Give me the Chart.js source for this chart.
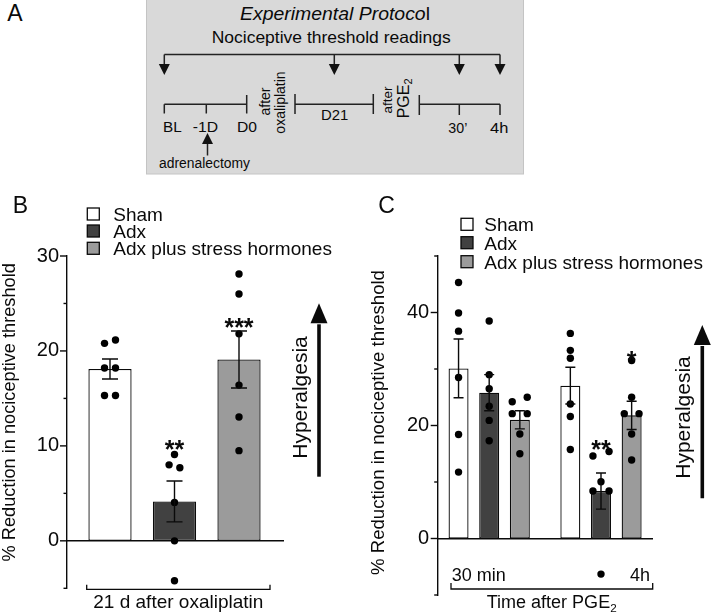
<!DOCTYPE html>
<html>
<head>
<meta charset="utf-8">
<script src="https://cdn.jsdelivr.net/npm/chart.js@4.4.1/dist/chart.umd.min.js"></script>
<style>
  html, body { margin: 0; padding: 0; background: #fff; width: 711px; height: 616px; overflow: hidden; }
  #panelA { position: absolute; left: 0; top: 0; }
  #wrapB { position: absolute; left: 0; top: 195px; width: 355px; height: 421px; }
  #wrapC { position: absolute; left: 355px; top: 195px; width: 356px; height: 421px; }
  canvas { display: block; }
</style>
</head>
<body>
<svg id="panelA" width="711" height="180" viewBox="0 0 711 180" xmlns="http://www.w3.org/2000/svg"
     font-family="Liberation Sans, Arial, Helvetica, sans-serif" fill="#0a0a0a">
  <text x="7.3" y="20.7" font-size="23">A</text>
  <rect x="146.5" y="-1" width="377" height="175" fill="#d9d9d9" stroke="#c4c4c4" stroke-width="1"/>
  <text x="240" y="20" font-size="18" textLength="190" lengthAdjust="spacingAndGlyphs"><tspan font-style="italic">Experimental Protoco</tspan>l</text>
  <text x="211.7" y="43.3" font-size="16.5" textLength="239" lengthAdjust="spacingAndGlyphs">Nociceptive threshold readings</text>
  <g stroke="#222" stroke-width="1.5" fill="none">
    <path d="M164.3 54.5 H500"/>
    <path d="M164.3 54.5 V66 M334.3 54.5 V66 M459.3 54.5 V66 M500 54.5 V66"/>
    <path d="M164.3 104.3 H246.7 M164.3 104.3 V113.5 M206.3 104.3 V113.5 M246.7 95 V113.5"/>
    <path d="M295 94 V114 M295 104.3 H373.3 M373.3 94 V114"/>
    <path d="M419.3 95 V115 M419.3 104.3 H500 M459.3 104.3 V115 M500 104.3 V115"/>
    <path d="M207.5 143 V155.5"/>
  </g>
  <g fill="#111" stroke="none">
    <polygon points="158.8,64 169.8,64 164.3,75"/>
    <polygon points="328.8,64 339.8,64 334.3,75"/>
    <polygon points="453.8,64 464.8,64 459.3,75"/>
    <polygon points="494.5,64 505.5,64 500,75"/>
    <polygon points="202,144 213,144 207.5,133"/>
  </g>
  <text x="163" y="131.7" font-size="15.5" textLength="18.7" lengthAdjust="spacingAndGlyphs">BL</text>
  <text x="192.7" y="131.7" font-size="15.5" textLength="25.3" lengthAdjust="spacingAndGlyphs">-1D</text>
  <text x="237" y="131.7" font-size="15.5" textLength="20" lengthAdjust="spacingAndGlyphs">D0</text>
  <text x="159" y="168.3" font-size="14" textLength="91" lengthAdjust="spacingAndGlyphs">adrenalectomy</text>
  <text transform="translate(270,101.5) rotate(-90)" font-size="14" text-anchor="middle">after</text>
  <text transform="translate(284.5,102.5) rotate(-90)" font-size="14" text-anchor="middle">oxaliplatin</text>
  <text x="321" y="120" font-size="15" textLength="27.3" lengthAdjust="spacingAndGlyphs">D21</text>
  <text transform="translate(392,100) rotate(-90)" font-size="13.5" text-anchor="middle">after</text>
  <text transform="translate(409,118.3) rotate(-90)" font-size="16">PGE<tspan font-size="11" dy="3">2</tspan></text>
  <text x="448.3" y="132.5" font-size="15.5" textLength="19" lengthAdjust="spacingAndGlyphs">30’</text>
  <text x="490" y="132.5" font-size="15.5" textLength="18.3" lengthAdjust="spacingAndGlyphs">4h</text>
</svg>

<div id="wrapB"><canvas id="chartB" width="355" height="421" style="width:355px;height:421px"></canvas></div>
<div id="wrapC"><canvas id="chartC" width="356" height="421" style="width:356px;height:421px"></canvas></div>

<script>
// ---------------- DATA ----------------
const seriesNames = ['Sham', 'Adx', 'Adx plus stress hormones'];

// Panel B: 21 d after oxaliplatin (% reduction in nociceptive threshold)
const meansB = [18.1, 4.15, 19.1];
const semsB = [1.05, 2.15, 3.0];
const shamPointsB = [20.8, 21.15, 18.2, 18.2, 15.3, 15.3];
const adxPointsB = [9.1, 8.0, 7.7, 4.05, 0.0, -4.2];
const adxHormPointsB = [28.1, 26.0, 21.8, 16.4, 13.05, 9.5];
const starsB = ['', '**', '***'];
const starLevelsB = [null, 10.3, 23.1];
const yTickLabelsB = [0, 10, 20, 30];

// Panel C: time after PGE2
const timepointsC = ['30 min', '4h'];
const shamMeansC = [30.1, 27.05];
const adxMeansC = [25.8, 8.4];
const adxHormMeansC = [21.0, 21.8];
const shamSemsC = [5.2, 3.25];
const adxSemsC = [3.2, 3.2];
const adxHormSemsC = [1.6, 2.5];
const shamPoints30 = [45.3, 39.9, 36.7, 28.5, 18.4, 11.75];
const shamPoints4h = [36.3, 33.3, 31.9, 23.8, 21.6, 15.75];
const adxPoints30 = [38.5, 29.0, 26.5, 23.4, 20.9, 17.3];
const adxPoints4h = [14.6, 15.4, 10.05, 8.4, 8.4, -6.3];
const adxHormPoints30 = [24.2, 25.0, 22.1, 22.1, 18.5, 15.0];
const adxHormPoints4h = [31.5, 25.0, 22.1, 22.1, 18.5, 13.9];
const starsC = [['', ''], ['', '**'], ['', '*']];
const starLevelsC = [[null, null], [null, 16.9], [null, 32.6]];
const yTickLabelsC = [0, 20, 40];

// ---------------- LAYOUT / STYLE ----------------
const FONT = '"Liberation Sans", Arial, Helvetica, sans-serif';
const seriesColors = ['#ffffff', '#414141', '#9b9b9b'];
const INK = '#0a0a0a';
// horizontal scatter of individual dots (in x-axis units)
const jitterB = [
  [-0.085, 0.085, -0.085, 0.085, -0.085, 0.085],
  [0, -0.084, 0.083, 0, 0, 0],
  [0, 0, 0, 0, 0, 0]
];
const jitterC = [
  [[0, 0, 0, 0, 0, 0], [0, 0, 0, 0, 0, 0]],
  [[0, 0, 0, 0, 0, 0], [-0.072, 0.072, 0, -0.072, 0.072, 0]],
  [[-0.068, 0.066, -0.068, 0.066, 0, 0], [0, 0, -0.066, 0.066, 0, 0]]
];
const catPctC = 0.8224, barPctC = 0.6525;

Chart.defaults.font.family = FONT;
Chart.defaults.color = INK;

function setFont(ctx, size, weight) {
  ctx.font = (weight ? weight + ' ' : '') + size + 'px ' + FONT;
}

const extrasPlugin = {
  id: 'panelExtras',
  afterDatasetsDraw(chart, args, o) {
    const ctx = chart.ctx, ys = chart.scales.y;
    ctx.save();
    chart.data.datasets.forEach((ds, i) => {
      if (!ds.errors) return;
      const meta = chart.getDatasetMeta(i);
      meta.data.forEach((el, j) => {
        const m = ds.data[j].y, e = ds.errors[j];
        const yt = ys.getPixelForValue(m + e), yb = ys.getPixelForValue(m - e);
        const h = o.errCap / 2;
        ctx.strokeStyle = INK; ctx.lineWidth = 1.4;
        ctx.beginPath();
        ctx.moveTo(el.x, yt); ctx.lineTo(el.x, yb);
        ctx.moveTo(el.x - h, yt); ctx.lineTo(el.x + h, yt);
        ctx.moveTo(el.x - h, yb); ctx.lineTo(el.x + h, yb);
        ctx.stroke();
        if (ds.stars && ds.stars[j]) {
          setFont(ctx, o.starSize, 'bold');
          ctx.fillStyle = INK; ctx.textAlign = 'center'; ctx.textBaseline = 'alphabetic';
          ctx.fillText(ds.stars[j], el.x, ys.getPixelForValue(ds.starLevels[j]) + 0.585 * o.starSize);
        }
      });
    });
    ctx.restore();
  },
  afterDraw(chart, args, o) {
    const ctx = chart.ctx, ys = chart.scales.y;
    ctx.save();
    ctx.fillStyle = INK; ctx.strokeStyle = INK;
    // y ticks (major / minor)
    ctx.lineWidth = 1.4;
    ys.ticks.forEach(t => {
      const y = ys.getPixelForValue(t.value);
      const len = o.majorTicks.includes(t.value) ? 7 : 3.5;
      ctx.beginPath(); ctx.moveTo(ys.right - len, y); ctx.lineTo(ys.right, y); ctx.stroke();
    });
    // panel letter
    setFont(ctx, 23); ctx.textAlign = 'left'; ctx.textBaseline = 'alphabetic';
    ctx.fillText(o.letter.text, o.letter.x, o.letter.y);
    // legend from bar datasets
    const L = o.legend;
    chart.data.datasets.filter(d => d.type === 'bar').forEach((d, i) => {
      const cy = L.ys[i];
      ctx.fillStyle = d.backgroundColor;
      ctx.fillRect(L.x, cy - L.box / 2, L.box, L.box);
      ctx.lineWidth = 1.3; ctx.strokeStyle = INK;
      ctx.strokeRect(L.x, cy - L.box / 2, L.box, L.box);
      ctx.fillStyle = INK; setFont(ctx, L.size);
      ctx.textAlign = 'left'; ctx.textBaseline = 'alphabetic';
      ctx.fillText(d.label, L.textX, cy + 0.36 * L.size);
    });
    // y-axis title
    ctx.save();
    ctx.translate(o.title.x, o.title.y); ctx.rotate(-Math.PI / 2);
    setFont(ctx, o.title.size); ctx.textAlign = 'center'; ctx.textBaseline = 'alphabetic';
    ctx.fillText(o.title.text, 0, 0);
    ctx.restore();
    // bracket below axis
    const B = o.bracket;
    ctx.lineWidth = 1.3; ctx.strokeStyle = INK;
    ctx.beginPath();
    ctx.moveTo(B.x1, B.y - B.tick); ctx.lineTo(B.x1, B.y); ctx.lineTo(B.x2, B.y); ctx.lineTo(B.x2, B.y - B.tick);
    ctx.stroke();
    o.labels.forEach(lb => {
      setFont(ctx, lb.size);
      const w1 = ctx.measureText(lb.text).width;
      let w2 = 0;
      if (lb.sub) { setFont(ctx, lb.size * 0.65); w2 = ctx.measureText(lb.sub).width; }
      const total = w1 + w2;
      let x0 = lb.align === 'center' ? lb.x - total / 2 : (lb.align === 'right' ? lb.x - total : lb.x);
      ctx.textAlign = 'left'; ctx.textBaseline = 'alphabetic';
      setFont(ctx, lb.size); ctx.fillText(lb.text, x0, lb.y);
      if (lb.sub) { setFont(ctx, lb.size * 0.65); ctx.fillText(lb.sub, x0 + w1, lb.y + 4); }
    });
    // hyperalgesia arrow
    const A = o.arrow;
    ctx.lineWidth = 3.6; ctx.lineCap = 'butt';
    ctx.beginPath(); ctx.moveTo(A.x, A.bottom); ctx.lineTo(A.x, A.base + 1); ctx.stroke();
    ctx.beginPath(); ctx.moveTo(A.x - A.head / 2, A.base); ctx.lineTo(A.x + A.head / 2, A.base); ctx.lineTo(A.x, A.tip); ctx.closePath(); ctx.fill();
    ctx.save();
    ctx.translate(A.textX, A.textY); ctx.rotate(-Math.PI / 2);
    setFont(ctx, A.size); ctx.textAlign = 'center'; ctx.textBaseline = 'alphabetic';
    ctx.fillText('Hyperalgesia', 0, 0);
    ctx.restore();
    ctx.restore();
  }
};

function yAxis(min, max, step, labelled, width, pad) {
  return {
    type: 'linear', position: 'left', min: min, max: max,
    afterFit: s => { s.width = width; },
    ticks: { stepSize: step, padding: pad, font: { size: 20 }, color: INK,
             callback: v => labelled.includes(v) ? String(v) : '' },
    grid: { display: false, drawTicks: false },
    border: { display: true, color: INK, width: 1.4 }
  };
}
function xAxis(min, max) {
  return {
    type: 'linear', position: { y: 0 }, min: min, max: max, offset: false,
    ticks: { display: false, stepSize: 1, includeBounds: false },
    grid: { display: false, drawTicks: false },
    border: { display: true, color: INK, width: 1.4 }
  };
}

// ---------------- PANEL B ----------------
const pointsB = [shamPointsB, adxPointsB, adxHormPointsB];
new Chart(document.getElementById('chartB'), {
  type: 'bar',
  data: {
    datasets: [
      ...seriesNames.map((name, i) => ({
        type: 'bar', label: name,
        data: [{ x: i, y: meansB[i] }],
        errors: [semsB[i]], stars: [starsB[i]], starLevels: [starLevelsB[i]],
        backgroundColor: seriesColors[i], borderColor: INK, borderWidth: 1.3, borderSkipped: false,
        grouped: false, categoryPercentage: 1, barPercentage: 0.67, order: 2
      })),
      ...pointsB.map((pts, i) => ({
        type: 'scatter', label: seriesNames[i] + ' individual',
        data: pts.map((v, j) => ({ x: i + jitterB[i][j], y: v })),
        pointRadius: 3.7, pointHoverRadius: 3.7, pointBackgroundColor: '#000', pointBorderWidth: 0, order: 1
      }))
    ]
  },
  options: {
    responsive: false, animation: false, devicePixelRatio: 1,
    layout: { padding: { left: 0, top: 61, right: 72, bottom: 27.7 } },
    scales: { x: xAxis(-0.6667, 2.6822), y: yAxis(-5, 30, 5, yTickLabelsB, 67, 8) },
    plugins: {
      legend: { display: false }, tooltip: { enabled: false },
      panelExtras: {
        errCap: 16, starSize: 25, majorTicks: yTickLabelsB,
        letter: { text: 'B', x: 12.7, y: 18.3 },
        legend: { x: 87.3, ys: [19, 36, 53.3], box: 12, textX: 113.3, size: 19 },
        title: { text: '% Reduction in nociceptive threshold', x: 14.8, y: 217.3, size: 18.2 },
        bracket: { x1: 86.7, x2: 270, y: 394.3, tick: 4.5 },
        labels: [{ text: '21 d after oxaliplatin', x: 178.3, y: 413.3, size: 19, align: 'center' }],
        arrow: { x: 319, tip: 108.3, base: 128.3, bottom: 281.7, head: 17, textX: 306.7, textY: 202.5, size: 21 }
      }
    }
  },
  plugins: [extrasPlugin]
});

// ---------------- PANEL C ----------------
const meansC = [shamMeansC, adxMeansC, adxHormMeansC];
const semsC = [shamSemsC, adxSemsC, adxHormSemsC];
const pointsC = [[shamPoints30, shamPoints4h], [adxPoints30, adxPoints4h], [adxHormPoints30, adxHormPoints4h]];
const slotC = catPctC / 3;
new Chart(document.getElementById('chartC'), {
  type: 'bar',
  data: {
    datasets: [
      ...seriesNames.map((name, k) => ({
        type: 'bar', label: name,
        data: timepointsC.map((t, g) => ({ x: g, y: meansC[k][g] })),
        errors: semsC[k], stars: starsC[k], starLevels: starLevelsC[k],
        backgroundColor: seriesColors[k], borderColor: INK, borderWidth: 1.3, borderSkipped: false,
        grouped: true, categoryPercentage: catPctC, barPercentage: barPctC, order: 2
      })),
      ...seriesNames.map((name, k) => ({
        type: 'scatter', label: name + ' individual',
        data: timepointsC.flatMap((t, g) => pointsC[k][g].map((v, j) => ({ x: g + (k - 1) * slotC + jitterC[k][g][j], y: v }))),
        pointRadius: 3.7, pointHoverRadius: 3.7, pointBackgroundColor: '#000', pointBorderWidth: 0, order: 1
      }))
    ]
  },
  options: {
    responsive: false, animation: false, devicePixelRatio: 1,
    layout: { padding: { left: 0, top: 61, right: 58.3, bottom: 21 } },
    scales: { x: xAxis(-0.4606, 1.4625), y: yAxis(-10, 50, 10, yTickLabelsC, 82.7, 8.5) },
    plugins: {
      legend: { display: false }, tooltip: { enabled: false },
      panelExtras: {
        errCap: 10, starSize: 25, majorTicks: yTickLabelsC,
        letter: { text: 'C', x: 23.3, y: 18.3 },
        legend: { x: 106, ys: [29.3, 47.7, 66.7], box: 12, textX: 129.3, size: 19 },
        title: { text: '% Reduction in nociceptive threshold', x: 28.5, y: 227.5, size: 18.6 },
        bracket: { x1: 96, x2: 297.7, y: 394, tick: 6 },
        labels: [
          { text: timepointsC[0], x: 96.7, y: 386, size: 18, align: 'left' },
          { text: timepointsC[1], x: 295, y: 386, size: 18, align: 'right' },
          { text: 'Time after PGE', sub: '2', x: 196.7, y: 413.3, size: 18, align: 'center' }
        ],
        arrow: { x: 347.3, tip: 130, base: 150, bottom: 303.3, head: 17, textX: 335, textY: 222.5, size: 21 }
      }
    }
  },
  plugins: [extrasPlugin]
});
</script>
</body>
</html>
